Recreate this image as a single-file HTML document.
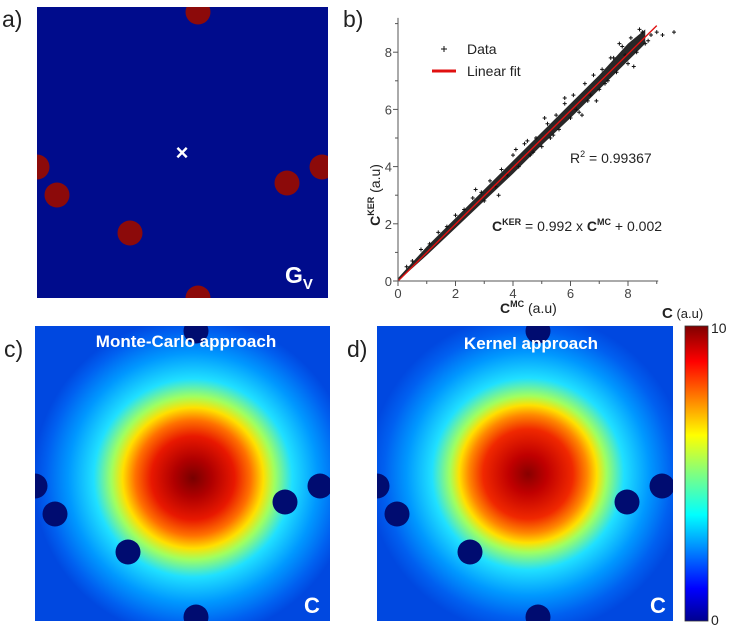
<!DOCTYPE html>
<html><head><meta charset="utf-8"><style>
html,body{margin:0;padding:0;background:#fff;}
svg{display:block;font-family:"Liberation Sans",Arial,sans-serif;}
</style></head><body>
<svg id="fig" width="735" height="629" viewBox="0 0 735 629">
<defs>
<radialGradient id="jetc" gradientUnits="userSpaceOnUse" cx="193" cy="478" r="160">
<stop offset="0" stop-color="#780000"/><stop offset="0.12" stop-color="#b00000"/><stop offset="0.26" stop-color="#e81800"/>
<stop offset="0.36" stop-color="#ff7000"/><stop offset="0.44" stop-color="#ffe000"/><stop offset="0.51" stop-color="#a0ff60"/>
<stop offset="0.62" stop-color="#20e0ff"/><stop offset="0.78" stop-color="#0098ff"/><stop offset="0.92" stop-color="#0060f0"/><stop offset="1" stop-color="#0048e0"/>
</radialGradient>
<radialGradient id="jetd" gradientUnits="userSpaceOnUse" cx="528" cy="474" r="160">
<stop offset="0" stop-color="#880000"/><stop offset="0.12" stop-color="#c00000"/><stop offset="0.28" stop-color="#f02800"/>
<stop offset="0.37" stop-color="#ff8800"/><stop offset="0.43" stop-color="#ffe000"/><stop offset="0.49" stop-color="#a0ff60"/>
<stop offset="0.6" stop-color="#20e0ff"/><stop offset="0.76" stop-color="#0098ff"/><stop offset="0.9" stop-color="#0060f0"/><stop offset="1" stop-color="#0048e0"/>
</radialGradient>
<linearGradient id="jetbar" x1="0" y1="1" x2="0" y2="0">
<stop offset="0" stop-color="#00008f"/><stop offset="0.11" stop-color="#0000ff"/><stop offset="0.36" stop-color="#00ffff"/>
<stop offset="0.5" stop-color="#80ff80"/><stop offset="0.63" stop-color="#ffff00"/><stop offset="0.88" stop-color="#ff0000"/><stop offset="1" stop-color="#800000"/>
</linearGradient>
<clipPath id="clipa"><rect x="37" y="7" width="291" height="291"/></clipPath>
<clipPath id="clipc"><rect x="35" y="326" width="295" height="295"/></clipPath>
<clipPath id="clipd"><rect x="377" y="326" width="296" height="295"/></clipPath>
</defs>

<text x="2" y="27" font-size="23" fill="#222">a)</text>
<g clip-path="url(#clipa)">
<rect x="37" y="7" width="291" height="291" fill="#000c8c"/>
<g id="circa" fill="#8c0a0a"></g>
</g>
<text x="182" y="160" font-size="22" font-weight="bold" fill="#fff" text-anchor="middle">×</text>
<text x="285" y="283" font-size="23" font-weight="bold" fill="#fff">G<tspan font-size="15" dy="6">V</tspan></text>

<text x="343" y="27" font-size="23" fill="#222">b)</text>
<g id="scatter"></g>

<text x="4" y="357" font-size="23" fill="#222">c)</text>
<g clip-path="url(#clipc)">
<rect x="35" y="326" width="295" height="295" fill="url(#jetc)"/>
<g id="circc" fill="#000c70"></g>
</g>
<text x="186" y="347" font-size="17" font-weight="bold" fill="#fff" text-anchor="middle">Monte-Carlo approach</text>
<text x="304" y="613" font-size="22" font-weight="bold" fill="#fff">C</text>

<text x="347" y="357" font-size="23" fill="#222">d)</text>
<g clip-path="url(#clipd)">
<rect x="377" y="326" width="296" height="295" fill="url(#jetd)"/>
<g id="circd" fill="#000c70"></g>
</g>
<text x="531" y="349" font-size="17" font-weight="bold" fill="#fff" text-anchor="middle">Kernel approach</text>
<text x="650" y="613" font-size="22" font-weight="bold" fill="#fff">C</text>

<rect x="685" y="326" width="23" height="295" fill="url(#jetbar)" stroke="#333" stroke-width="0.8"/>
<text x="711" y="333" font-size="14" fill="#222">10</text>
<text x="711" y="625" font-size="14" fill="#222">0</text>
<text x="662" y="318" font-size="13" fill="#222"><tspan font-weight="bold" font-size="15">C</tspan> (a.u)</text>

<g>
<path d="M441 49H447M444 46V52" stroke="#111"/>
<text x="467" y="54" font-size="14" fill="#222">Data</text>
<line x1="432" y1="71" x2="456" y2="71" stroke="#e01010" stroke-width="3"/>
<text x="467" y="76" font-size="14" fill="#222">Linear fit</text>
</g>
<text x="570" y="163" font-size="14" fill="#222">R<tspan font-size="9" dy="-6">2</tspan><tspan dy="6"> = 0.99367</tspan></text>
<text x="492" y="231" font-size="14" fill="#222"><tspan font-weight="bold">C</tspan><tspan font-size="9" font-weight="bold" dy="-6">KER</tspan><tspan dy="6"> = 0.992 x </tspan><tspan font-weight="bold">C</tspan><tspan font-size="9" font-weight="bold" dy="-6">MC</tspan><tspan dy="6"> + 0.002</tspan></text>
<text x="500" y="313" font-size="14" fill="#222"><tspan font-weight="bold">C</tspan><tspan font-size="9" font-weight="bold" dy="-6">MC</tspan><tspan dy="6"> (a.u)</tspan></text>
<text transform="translate(380 195) rotate(-90)" font-size="14" fill="#222" text-anchor="middle"><tspan font-weight="bold">C</tspan><tspan font-size="9" font-weight="bold" dy="-6">KER</tspan><tspan dy="6"> (a.u)</tspan></text>
</svg>
<script>
const obstaclesX = [198, 37, 57, 130, 198, 287, 322];
const obstaclesY = [12, 167, 195, 233, 298, 183, 167];
const obstacleR = 12.5;

const bandX  = [0, 0.5, 1, 2, 3, 4, 5, 6, 7, 8, 8.6];
const bandLo = [0, 0.45, 0.9, 1.85, 2.8, 3.75, 4.75, 5.7, 6.7, 7.7, 8.3];
const bandHi = [0.1, 0.65, 1.2, 2.2, 3.2, 4.2, 5.2, 6.2, 7.2, 8.3, 8.8];
const ptX = [0.3,0.5,0.8,1.1,1.4,1.7,2.0,2.3,2.6,2.9,3.2,3.4,3.6,3.8,4.0,4.2,4.4,4.6,4.8,5.0,5.2,5.3,5.5,5.6,5.8,6.0,6.1,6.3,6.5,6.6,6.8,7.0,7.1,7.3,7.5,7.6,7.8,8.0,8.1,8.3,8.5,8.6,8.8,9.0,9.2,9.6,2.7,3.5,4.5,5.8,6.9,7.7,8.2,5.1,4.1,6.4,7.4,8.4,6.2,7.2,5.4,4.7,3.0,8.7,7.9,6.7];
const ptY = [0.5,0.7,1.1,1.3,1.7,1.9,2.3,2.5,2.9,3.1,3.5,3.3,3.9,3.7,4.4,4.0,4.8,4.4,5.0,4.7,5.5,5.0,5.8,5.3,6.2,5.7,6.5,5.9,6.9,6.3,7.2,6.7,7.4,7.0,7.8,7.3,8.2,7.6,8.5,8.0,8.7,8.3,8.6,8.7,8.6,8.7,3.2,3.0,4.9,6.4,6.3,8.3,7.5,5.7,4.6,5.8,7.8,8.8,6.0,6.9,5.1,4.5,2.8,8.4,7.9,6.5];
const xTicks = [0, 2, 4, 6, 8];
const yTicks = [0, 2, 4, 6, 8];
const fitSlope = 0.992, fitIntercept = 0.002;

const NS = 'http://www.w3.org/2000/svg';
function mk(tag, attrs, parent) {
  const e = document.createElementNS(NS, tag);
  for (const k in attrs) e.setAttribute(k, attrs[k]);
  parent.appendChild(e);
  return e;
}
function drawCircles(id, dx, dy) {
  const g = document.getElementById(id);
  for (let i = 0; i < obstaclesX.length; i++) {
    const c = mk('circle', {cx: obstaclesX[i] + dx, cy: obstaclesY[i] + dy, r: obstacleR}, g);
    
    
  }
}
drawCircles('circa', 0, 0);
drawCircles('circc', -2, 319);
drawCircles('circd', 340, 319);

const X0 = 398, Y0 = 281, KX = 28.75, KY = 28.6;
const sx = v => X0 + v * KX;
const sy = v => Y0 - v * KY;
const g = document.getElementById('scatter');

const band = [];
for (let i = 0; i < bandX.length; i++) band.push(sx(bandX[i]) + ',' + sy(bandHi[i]));
for (let i = bandX.length - 1; i >= 0; i--) band.push(sx(bandX[i]) + ',' + sy(bandLo[i]));
const bp = mk('polygon', {points: band.join(' '), fill: '#111', 'fill-opacity': 0.9}, g);



for (let i = 0; i < ptX.length; i++) {
  const x = sx(ptX[i]), y = sy(ptY[i]);
  const p = mk('path', {d: `M${x-2} ${y}H${x+2}M${x} ${y-2}V${y+2}`, stroke: '#111', 'stroke-width': 1}, g);
  
  
}

const fit = mk('line', {x1: sx(0), y1: sy(fitIntercept), x2: sx(9), y2: sy(fitSlope * 9 + fitIntercept), stroke: '#e01010', 'stroke-width': 1.4}, g);



const xa = mk('path', {d: `M${X0} ${sy(9.2)}V${Y0}H${sx(9.05)}`, stroke: '#555', fill: 'none', 'stroke-width': 1}, g);


for (let v = 0; v <= 9; v++) {
  mk('line', {x1: sx(v), y1: Y0, x2: sx(v), y2: Y0 + (v % 2 ? 3 : 5), stroke: '#555'}, g);
  mk('line', {x1: X0, y1: sy(v), x2: X0 - (v % 2 ? 3 : 5), y2: sy(v), stroke: '#555'}, g);
}
xTicks.forEach(v => {
  const t = mk('text', {x: sx(v), y: Y0 + 17, 'font-size': 13, fill: '#444', 'text-anchor': 'middle'}, g);
  t.textContent = v;
  
  
});
yTicks.forEach(v => {
  const t = mk('text', {x: X0 - 6, y: sy(v) + 5, 'font-size': 13, fill: '#444', 'text-anchor': 'end'}, g);
  t.textContent = v;
  
  
});
</script>
</body></html>
